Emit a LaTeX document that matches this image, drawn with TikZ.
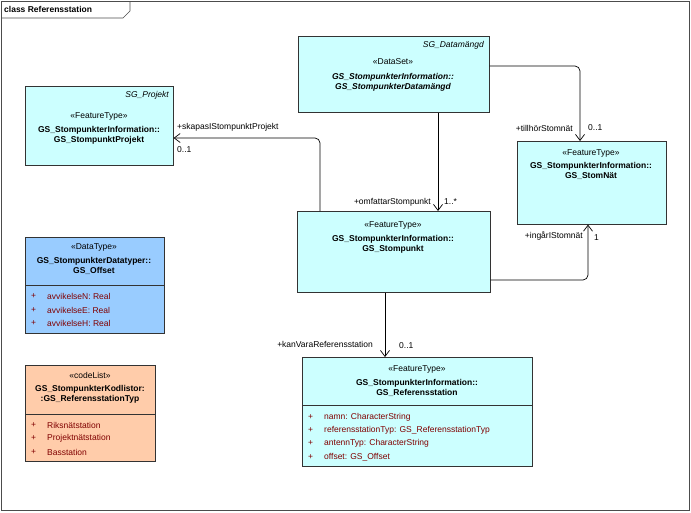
\documentclass[tikz,border=0pt]{standalone}
\usepackage{fontspec}
\setmainfont{Liberation Sans}
\usetikzlibrary{arrows.meta}
\definecolor{cy}{RGB}{204,255,255}
\definecolor{bl}{RGB}{153,204,255}
\definecolor{orng}{RGB}{255,204,170}
\definecolor{attr}{RGB}{128,0,0}
\begin{document}
\begin{tikzpicture}[x=1pt,y=-1pt,
  box/.style={draw=black!80,anchor=north west,inner sep=0pt,line width=0.6pt},
  t/.style={font=\fontsize{8.5}{10}\selectfont,inner sep=0pt,align=center},
  tb/.style={t,font=\fontsize{8.5}{10}\selectfont\bfseries},
  lab/.style={font=\fontsize{8.5}{10}\selectfont,inner sep=1pt},
  atx/.style={font=\fontsize{8.5}{10}\selectfont,text=attr,anchor=west,inner sep=0pt},
  con/.style={draw=black,line width=0.7pt,rounded corners=5pt,-{Straight Barb[open,length=6pt,width=9pt]}}]
\useasboundingbox (0,0) rectangle (691,512);
\draw[black!70,line width=0.6pt] (1,1) rectangle (689,510);
\draw[black!70,line width=0.6pt] (1,18) -- (123,18) -- (130,11) -- (130,1);
\node[tb,anchor=west] (title) at (4,9) {class Referensstation};
% Datamangd
\node[box,fill=cy,minimum width=191pt,minimum height=76pt] (dm) at (298,36) {};
\node[t,anchor=east,font=\fontsize{8.5}{10}\selectfont\itshape] (dmn) at (484,45) {SG\_Datamängd};
\node[t] (dms) at (393,62) {«DataSet»};
\node[tb,font=\fontsize{8.5}{10}\selectfont\bfseries\itshape] (dmt) at (393,82) {GS\_StompunkterInformation::\\GS\_StompunkterDatamängd};
% Projekt
\node[box,fill=cy,minimum width=148pt,minimum height=79pt] (pr) at (25,86) {};
\node[t,anchor=east,font=\fontsize{8.5}{10}\selectfont\itshape] (prn) at (169,95) {SG\_Projekt};
\node[t] (prs) at (99,116) {«FeatureType»};
\node[tb] (prt) at (99,135) {GS\_StompunkterInformation::\\GS\_StompunktProjekt};
% StomNat
\node[box,fill=cy,minimum width=149pt,minimum height=83pt] (sn) at (517,141) {};
\node[t] (sns) at (591,153) {«FeatureType»};
\node[tb] (snt) at (591,171) {GS\_StompunkterInformation::\\GS\_StomNät};
% Stompunkt
\node[box,fill=cy,minimum width=193pt,minimum height=81pt] (sp) at (297,211) {};
\node[t] (sps) at (393,225) {«FeatureType»};
\node[tb] (spt) at (393,244) {GS\_StompunkterInformation::\\GS\_Stompunkt};
% Offset
\node[box,fill=bl,minimum width=139pt,minimum height=96pt] (of) at (25,237) {};
\draw[black!80,line width=0.6pt] (25,285) -- (164,285);
\node[t] (ofs) at (94,247) {«DataType»};
\node[tb] (oft) at (94,266) {GS\_StompunkterDatatyper::\\GS\_Offset};
\foreach \y/\s [count=\i] in {296/avvikelseN: Real,310/avvikelseE: Real,323/avvikelseH: Real}{
  \node[atx] (ofp\i) at (31,\y) {+}; \node[atx] (ofa\i) at (47,\y) {\s};}
% codeList
\node[box,fill=orng,minimum width=130pt,minimum height=96pt] (cl) at (25,365) {};
\draw[black!80,line width=0.6pt] (25,414) -- (155,414);
\node[t] (cls) at (90,375) {«codeList»};
\node[tb] (clt) at (90,394) {GS\_StompunkterKodlistor:\\:GS\_ReferensstationTyp};
\foreach \y/\s [count=\i] in {425/Riksnätstation,438/Projektnätstation,452/Basstation}{
  \node[atx] (clp\i) at (31,\y) {+}; \node[atx] (cla\i) at (47,\y) {\s};}
% Referensstation
\node[box,fill=cy,minimum width=230pt,minimum height=109pt] (rs) at (302,357) {};
\draw[black!80,line width=0.6pt] (302,405) -- (532,405);
\node[t] (rss) at (417,369) {«FeatureType»};
\node[tb] (rst) at (417,388) {GS\_StompunkterInformation::\\GS\_Referensstation};
\foreach \y/\s [count=\i] in {417/namn: CharacterString,430/referensstationTyp: GS\_ReferensstationTyp,443/antennTyp: CharacterString,457/offset: GS\_Offset}{
  \node[atx] (rsp\i) at (308,\y) {+}; \node[atx] (rsa\i) at (324,\y) {\s};}
% connectors
\draw[con] (dm.south -| 438,0) -- (sp.north -| 438,0);
\node[lab,anchor=east] (l1) at (432,202) {+omfattarStompunkt};
\node[lab,anchor=west] (l2) at (443,202) {1..*};
\draw[con] (dm.east |- 0,66) -- (580,66) -- (sn.north -| 580,0);
\node[lab,anchor=east] (l3) at (574,128) {+tillhörStomnät};
\node[lab,anchor=west] (l4) at (587,128) {0..1};
\draw[con] (sp.north -| 320,0) -- (320,138) -- (pr.east |- 0,138);
\node[lab,anchor=west] (l5) at (176,127) {+skapasIStompunktProjekt};
\node[lab,anchor=west] (l6) at (176,150) {0..1};
\draw[con] (sp.east |- 0,280) -- (588,280) -- (sn.south -| 588,0);
\node[lab,anchor=east] (l7) at (584,236) {+ingårIStomnät};
\node[lab,anchor=west] (l8) at (593,238) {1};
\draw[con] (sp.south -| 385,0) -- (rs.north -| 385,0);
\node[lab,anchor=east] (l9) at (374,344) {+kanVaraReferensstation};
\node[lab,anchor=west] (l10) at (398,346) {0..1};
\end{tikzpicture}
\end{document}
